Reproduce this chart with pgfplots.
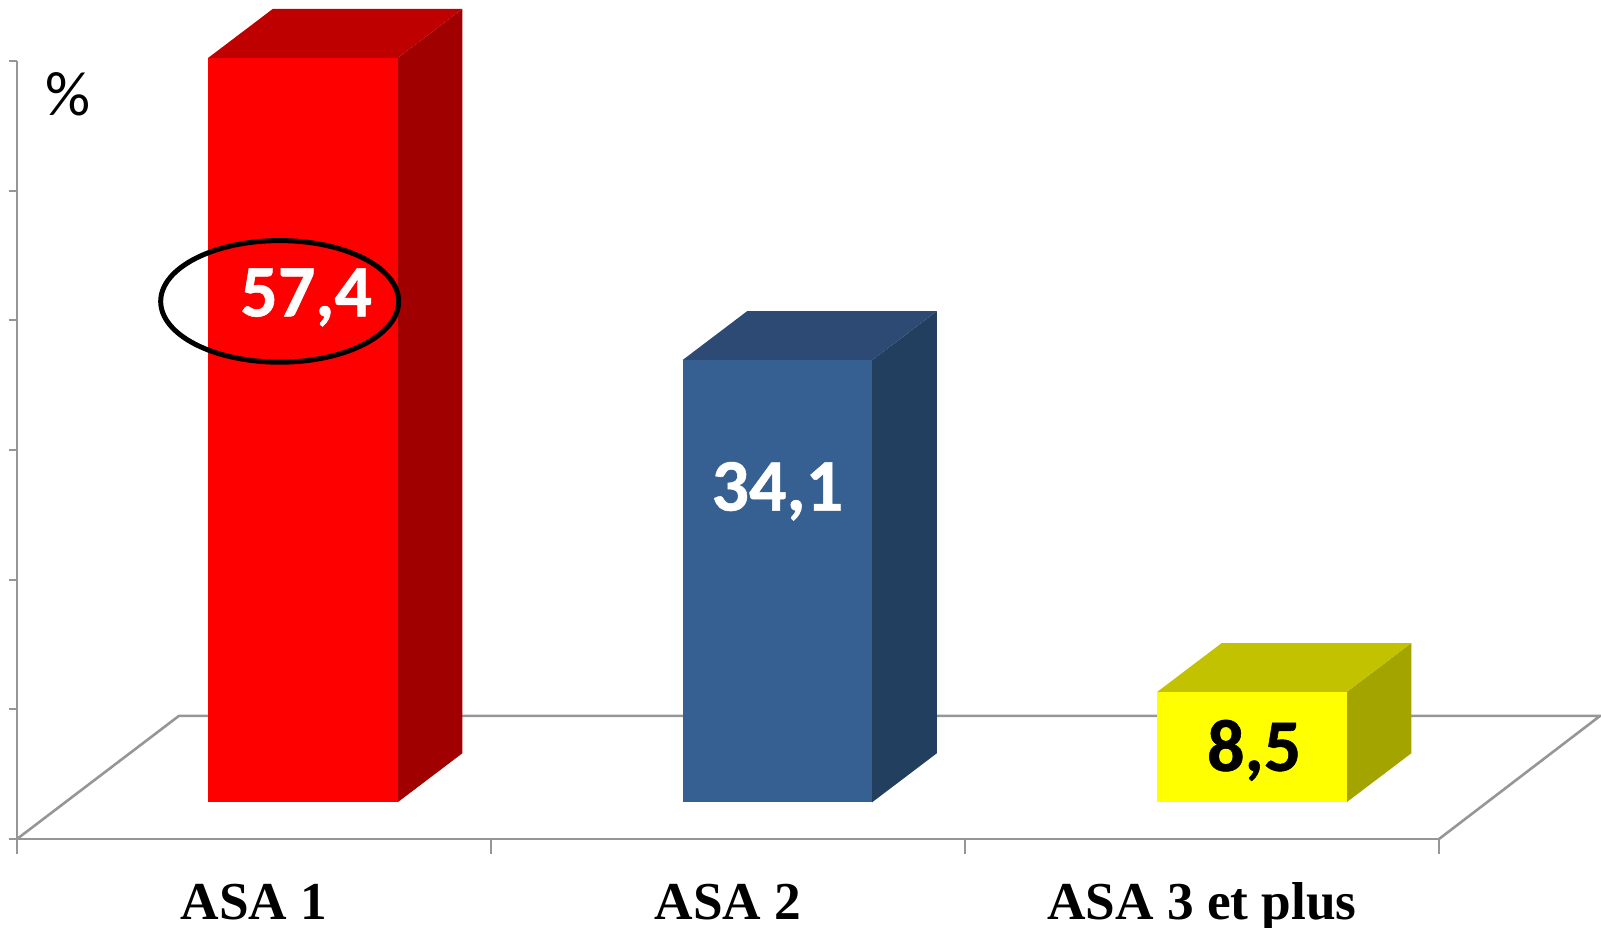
\documentclass[border=0pt]{standalone}
\usepackage{fontspec}
\setmainfont{Liberation Serif}
\newfontfamily\calibri{Carlito}
\newfontfamily\calibriheavy[FakeBold=0.7]{Carlito}
\usepackage{pgfplots}
\pgfplotsset{compat=1.18}

\definecolor{axisgray}{HTML}{969696}
\definecolor{redfront}{HTML}{FF0000}
\definecolor{redside}{HTML}{A00000}
\definecolor{redtop}{HTML}{BE0000}
\definecolor{bluefront}{HTML}{376092}
\definecolor{blueside}{HTML}{233F60}
\definecolor{bluetop}{HTML}{2C4A73}
\definecolor{yellowfront}{HTML}{FFFF00}
\definecolor{yellowside}{HTML}{A4A400}
\definecolor{yellowtop}{HTML}{C2C200}

% Box with a front face, a receding side and a lid: left edge, value, three colours
\newcommand{\boxbar}[5]{%
  \pgfmathsetmacro{\xr}{#1+0.4}%
  \pgfmathsetmacro{\xc}{#1+0.2}%
  \pgfmathsetmacro{\xbl}{#1+0.1365}%
  \pgfmathsetmacro{\xbr}{#1+0.5365}%
  \pgfmathsetmacro{\yt}{#2+3.78}%
  \addplot[draw=none, fill=#4] coordinates {(\xr,0) (\xbr,3.78) (\xbr,\yt) (\xr,#2)} --cycle;
  \addplot[draw=none, fill=#5] coordinates {(#1,#2) (\xr,#2) (\xbr,\yt) (\xbl,\yt)} --cycle;
  \addplot[ybar, bar width=189.6pt, bar shift=0pt, draw=none, fill=#3] coordinates {(\xc,#2)};
}

\begin{document}
\begin{tikzpicture}
\begin{axis}[
  scale only axis,
  width=1422pt,
  height=778pt,
  xmin=0, xmax=3,
  ymin=-2.83, ymax=57.17,
  clip=false,
  axis x line=bottom,
  axis y line=left,
  axis line style={draw=axisgray, line width=2.6pt, -},
  xtick={0.5,1.5,2.5},
  xticklabels={ASA 1, ASA 2, ASA 3 et plus},
  major x tick style={draw=none},
  ytick={-2.83,7.17,17.17,27.17,37.17,47.17,57.17},
  yticklabels={},
  major y tick style={draw=axisgray, line width=1.8pt},
  tick align=outside,
  major tick length=8pt,
  x tick label style={font=\fontsize{53.3}{60}\selectfont\bfseries,
    text height=36pt, text depth=0pt, inner sep=0pt, yshift=-36.5pt},
]
  % Floor of the chart
  \addplot[draw=axisgray, line width=2.6pt]
    coordinates {(0,-2.83) (0.3418,6.67) (3.34,6.67) (3,-2.83)};
  % Category separators under the front edge
  \addplot[draw=axisgray, line width=1.8pt] coordinates {(0,-2.83) (0,-3.99)};
  \addplot[draw=axisgray, line width=1.8pt] coordinates {(1,-2.83) (1,-3.99)};
  \addplot[draw=axisgray, line width=1.8pt] coordinates {(2,-2.83) (2,-3.99)};
  \addplot[draw=axisgray, line width=1.8pt] coordinates {(3,-2.83) (3,-3.99)};

  \boxbar{0.403}{57.4}{redfront}{redside}{redtop}
  \boxbar{1.404}{34.1}{bluefront}{blueside}{bluetop}
  \boxbar{2.405}{8.5}{yellowfront}{yellowside}{yellowtop}

  % Value labels
  \node[anchor=base, inner sep=0pt, text=white, font=\calibriheavy\bfseries\fontsize{74}{80}\selectfont]
    at (axis cs:0.610,37.47) {57,4};
  \node[anchor=base, inner sep=0pt, text=white, font=\calibriheavy\bfseries\fontsize{74}{80}\selectfont]
    at (axis cs:1.604,22.5) {34,1};
  \node[anchor=base, inner sep=0pt, text=black, font=\calibriheavy\bfseries\fontsize{74}{80}\selectfont]
    at (axis cs:2.610,2.42) {8,5};

  % Unit
  \node[anchor=base, inner sep=0pt, font=\calibri\fontsize{63}{70}\selectfont]
    at (axis cs:0.1085,53) {\%};

  % Ring around the first value
  \draw[black, line width=5pt] (axis cs:0.5542,38.63) ellipse [x radius=119pt, y radius=60.8pt];
\end{axis}
\pgfresetboundingbox
\useasboundingbox (-17pt,-89pt) rectangle (1584pt,839pt);
\end{tikzpicture}
\end{document}
